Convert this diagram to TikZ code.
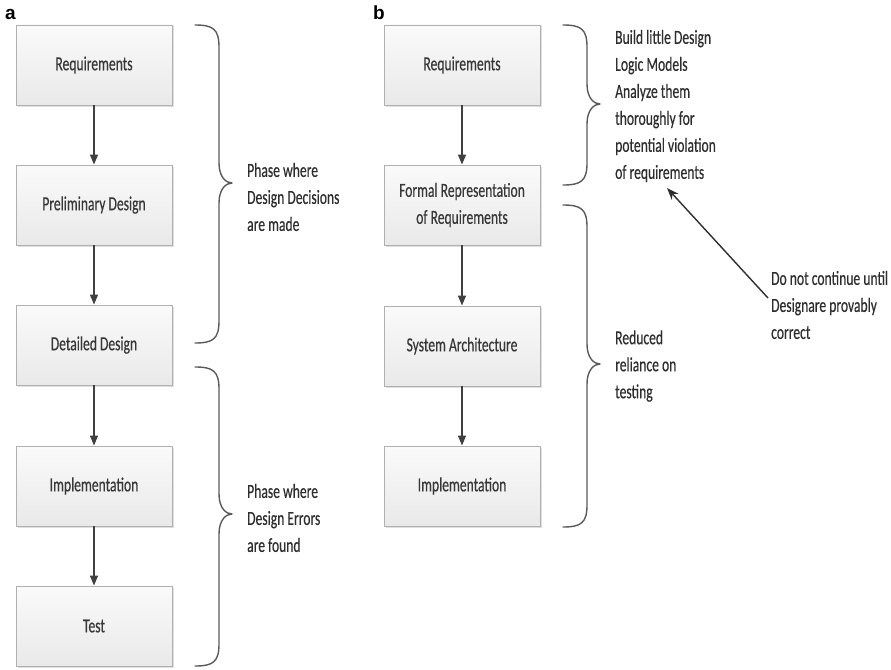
\documentclass[tikz,border=0pt]{standalone}
\usepackage{fontspec}
\setmainfont{Carlito}[FakeStretch=0.68,FakeBold=0.4]
\newfontfamily\lblfont{Liberation Sans}
\usetikzlibrary{arrows.meta,shadows}

\definecolor{boxtxt}{HTML}{383838}
\definecolor{boxline}{HTML}{B0B0B0}
\definecolor{boxtop}{HTML}{FAFAFA}
\definecolor{boxbot}{HTML}{E9E9E9}
\definecolor{flow}{HTML}{404040}
\definecolor{brc}{HTML}{5A5A5A}
\definecolor{notetxt}{HTML}{2E2E2E}

\tikzset{
  stage/.style={draw=boxline, line width=0.9pt, top color=boxtop, bottom color=boxbot,
    minimum width=156pt, minimum height=80pt, inner sep=2pt, align=center,
    text=boxtxt, font=\fontsize{20}{27}\selectfont,
    drop shadow={opacity=0.25, shadow xshift=1.5pt, shadow yshift=-1.5pt}},
  flowarrow/.style={draw=flow, line width=1.3pt, -{Triangle[length=10pt,width=8pt]}},
  notearrow/.style={draw=notetxt, line width=1.4pt, -{Stealth[length=12pt,width=9pt]}},
  bracestyle/.style={draw=brc, line width=1.4pt, line cap=round, line join=round},
  remark/.style={inner sep=0pt, anchor=west, align=left, text=notetxt,
    font=\fontsize{20}{27}\selectfont},
  panel/.style={inner sep=0pt, anchor=base west, font=\lblfont\bfseries\fontsize{19}{22}\selectfont}
}

% right curly brace: #1 = x of the open ends, #2 = top, #3 = bottom, #4 = y of the tip
\newcommand\rbrc[4]{%
  \draw[bracestyle]
    (#1,#2) .. controls ({#1+18},#2) and ({#1+24},{#2+4}) .. ({#1+24},{#2+22})
    -- ({#1+24},{#4-20})
    .. controls ({#1+24},{#4-6}) and ({#1+31},#4) .. ({#1+37},#4)
    .. controls ({#1+31},#4) and ({#1+24},{#4+6}) .. ({#1+24},{#4+20})
    -- ({#1+24},{#3-22})
    .. controls ({#1+24},{#3-4}) and ({#1+18},#3) .. (#1,#3);}

\begin{document}
\begin{tikzpicture}[x=1pt,y=-1pt]
\useasboundingbox (0,0) rectangle (891,669);

% panel letters
\node[panel] (pa) at (5,20) {a};
\node[panel] (pb) at (373,20) {b};

% conventional process
\node[stage] (a1) at (94,65)  {Requirements};
\node[stage] (a2) at (94,205) {Preliminary Design};
\node[stage] (a3) at (94,345) {Detailed Design};
\node[stage] (a4) at (94,486) {Implementation};
\node[stage] (a5) at (94,626) {Test};
\draw[flowarrow] (a1.south) -- (a2.north);
\draw[flowarrow] (a2.south) -- (a3.north);
\draw[flowarrow] (a3.south) -- (a4.north);
\draw[flowarrow] (a4.south) -- (a5.north);

\rbrc{195}{25}{343}{183}
\rbrc{195}{367}{666}{514}
\node[remark] (da) at (247,197) {Phase where\\Design Decisions\\are made};
\node[remark] (db) at (247,518) {Phase where\\Design Errors\\are found};

% formal-methods process
\node[stage] (b1) at (462,65)  {Requirements};
\node[stage] (b2) at (462,205) {Formal Representation\\of Requirements};
\node[stage] (b3) at (462,346) {System Architecture};
\node[stage] (b4) at (462,486) {Implementation};
\draw[flowarrow] (b1.south) -- (b2.north);
\draw[flowarrow] (b2.south) -- (b3.north);
\draw[flowarrow] (b3.south) -- (b4.north);

\rbrc{563}{25}{185}{104}
\rbrc{563}{205}{527}{364}
\node[remark] (bm) at (615,106) {Build little Design\\Logic Models\\Analyze them\\thoroughly for\\potential violation\\of requirements};
\node[remark] (rt) at (615,366) {Reduced\\reliance on\\testing};
\node[remark] (dn) at (771,305) {Do not continue until\\Designare provably\\correct};

\coordinate (ntail) at (768,298);
\coordinate (nhead) at (667,188);
\draw[notearrow] (ntail) -- (nhead);
\end{tikzpicture}
\end{document}
